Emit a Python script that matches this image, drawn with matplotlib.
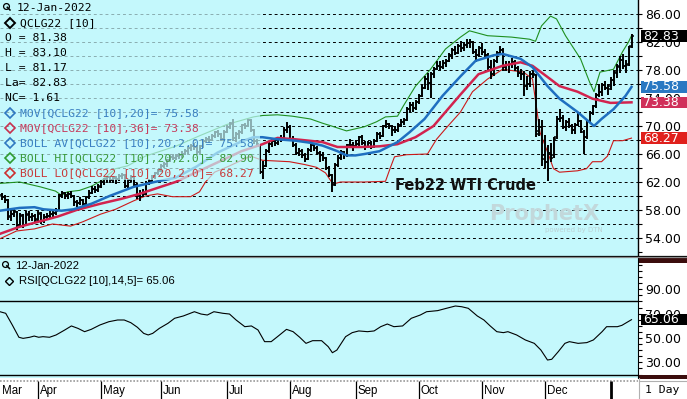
import matplotlib

matplotlib.use("Agg")
import matplotlib.pyplot as plt
import matplotlib.transforms as mtransforms
import numpy as np
from matplotlib.lines import Line2D
from matplotlib.patches import Rectangle
from matplotlib.ticker import FormatStrFormatter

BG = "#c4f8fc"
BLUE = "#1f6fc0"
CRIMSON = "#d2234e"
GREEN = "#1f8f1f"
RED = "#cc1a1a"
MONO = "DejaVu Sans Mono"
SANS = "Liberation Sans"

FIG_W, FIG_H = 687, 399
PLOT_W = 638
PRICE_H = 256
RSI_TOP, RSI_BOTTOM = 258, 378

# month labels and the bar index where each month starts
MONTHS = ["Mar", "Apr", "May", "Jun", "Jul", "Aug", "Sep", "Oct", "Nov", "Dec", ""]
MONTH_START = [0, 12, 33, 53, 75, 96, 118, 139, 160, 181, 203]

# daily OHLC bars, one row per month (Mar 2021 .. Jan 2022)
OPENS = [
    60.2, 59.8, 59.4, 57.1, 57.5, 57.7, 55.8, 57.3, 55.9, 57.4, 57.0, 57.2,
    56.7, 57.5, 56.4, 57.0, 57.2, 57.5, 57.6, 58.0, 60.1, 60.4, 60.1, 60.3, 60.0, 59.2, 59.0, 59.4, 58.8, 59.8, 60.5, 61.0, 60.9,
    61.4, 62.0, 62.4, 62.7, 62.3, 62.6, 62.4, 62.8, 63.0, 61.5, 62.3, 62.7, 61.6, 60.0, 60.5, 60.3, 61.9, 62.2, 62.8, 63.3,
    63.8, 64.3, 64.6, 65.1, 65.6, 65.5, 65.7, 65.9, 66.0, 66.4, 66.9, 67.2, 67.0, 66.3, 67.1, 67.9, 68.2, 68.0, 68.6, 69.1, 68.8, 68.2,
    69.2, 69.9, 70.4, 68.3, 68.9, 69.2, 70.1, 70.0, 70.8, 69.4, 67.8, 67.2, 63.5, 64.3, 66.4, 67.5, 67.9, 67.6, 68.1, 68.3, 69.5,
    69.9, 68.2, 67.3, 66.2, 66.5, 65.9, 65.3, 66.6, 67.3, 66.9, 66.2, 65.9, 65.4, 64.0, 63.0, 61.7, 64.4, 65.5, 66.3, 65.8, 67.3, 67.3,
    67.2, 67.5, 68.4, 67.6, 67.0, 67.6, 67.0, 67.9, 68.8, 68.6, 70.0, 70.3, 70.0, 69.4, 69.5, 70.2, 70.6, 70.9, 72.4, 73.0, 72.6,
    73.4, 74.3, 75.5, 76.7, 76.2, 77.4, 78.2, 78.6, 78.5, 79.0, 79.3, 80.1, 80.8, 80.5, 81.4, 81.2, 81.6, 81.9, 82.0, 80.6, 80.2,
    81.1, 80.6, 80.2, 78.4, 77.5, 79.3, 80.4, 80.9, 78.4, 78.7, 78.8, 79.1, 78.3, 77.6, 77.4, 75.7, 76.0, 77.4, 77.3, 69.3, 69.8,
    65.8, 64.9, 66.2, 65.9, 68.4, 71.0, 71.2, 69.9, 70.6, 70.0, 69.5, 70.2, 70.7, 69.2, 68.4, 70.7, 71.9, 72.8, 74.5, 74.9, 75.8, 75.5,
    75.7, 76.6, 77.6, 78.5, 79.5, 78.6, 78.9, 81.38,
]
HIGHS = [
    60.5, 60.2, 59.6, 58.2, 58.3, 57.9, 57.6, 57.5, 57.8, 57.9, 57.6, 57.5,
    58.0, 57.7, 57.4, 57.6, 57.9, 58.0, 58.3, 60.3, 60.7, 60.6, 60.6, 60.7, 60.2, 59.5, 59.8, 59.6, 60.0, 60.8, 61.4, 61.5, 61.7,
    62.3, 62.6, 62.9, 62.9, 62.9, 62.9, 63.1, 63.3, 63.1, 62.5, 63.0, 62.9, 61.8, 60.9, 61.0, 62.1, 62.5, 63.0, 63.5, 63.9,
    64.6, 64.9, 65.3, 65.8, 66.0, 66.0, 66.2, 66.4, 66.7, 67.2, 67.5, 67.6, 67.3, 67.3, 68.1, 68.5, 68.6, 68.9, 69.3, 69.4, 69.0, 69.4,
    70.2, 70.6, 71.0, 69.2, 69.5, 70.3, 70.5, 71.0, 71.0, 69.6, 68.2, 67.4, 65.0, 66.7, 67.7, 68.1, 68.2, 68.4, 68.7, 69.8, 70.6,
    70.1, 68.6, 67.6, 66.9, 66.7, 66.1, 66.8, 67.6, 67.5, 67.1, 66.4, 66.3, 65.6, 64.3, 63.2, 64.7, 65.8, 66.6, 66.5, 67.5, 68.1, 67.7,
    68.0, 68.6, 68.7, 67.9, 67.9, 67.9, 68.2, 69.1, 69.2, 70.2, 70.9, 70.5, 70.1, 70.0, 70.5, 71.0, 71.2, 72.7, 73.4, 73.5, 73.7,
    74.6, 75.8, 77.2, 77.6, 77.7, 78.5, 79.3, 79.3, 79.4, 79.6, 80.4, 81.1, 81.4, 81.7, 82.2, 82.0, 82.4, 82.5, 82.1, 81.0, 81.5,
    81.9, 81.0, 80.4, 79.4, 79.6, 80.7, 81.4, 81.2, 79.3, 79.3, 79.7, 79.4, 78.6, 78.2, 77.9, 77.1, 77.9, 78.0, 77.5, 71.0, 70.9,
    68.7, 67.3, 67.6, 68.5, 71.5, 72.4, 71.6, 70.9, 71.1, 70.3, 70.4, 71.9, 70.9, 69.5, 70.9, 72.1, 73.0, 74.7, 76.0, 76.1, 76.5, 76.0,
    77.0, 77.8, 78.9, 80.0, 80.3, 79.4, 81.5, 83.10,
]
LOWS = [
    59.4, 59.0, 56.6, 56.5, 57.0, 55.2, 55.6, 55.5, 55.7, 56.5, 56.4, 56.2,
    56.4, 56.0, 56.1, 56.6, 56.8, 56.9, 57.3, 57.9, 59.7, 59.6, 59.6, 59.7, 58.6, 58.5, 58.7, 58.4, 58.6, 59.6, 60.3, 60.5, 60.6,
    61.2, 61.6, 62.0, 61.9, 61.9, 61.7, 62.1, 62.4, 61.2, 61.2, 62.0, 61.4, 59.6, 59.3, 59.8, 60.2, 61.6, 62.0, 62.5, 63.0,
    63.5, 64.0, 64.2, 64.8, 65.1, 65.2, 65.3, 65.5, 65.8, 66.0, 66.5, 66.6, 65.9, 66.0, 66.8, 67.6, 67.6, 67.8, 68.3, 68.4, 67.8, 68.0,
    69.0, 69.6, 67.9, 67.7, 68.2, 68.9, 69.6, 69.8, 69.1, 67.5, 67.1, 63.2, 62.4, 64.1, 66.2, 67.0, 67.1, 67.3, 67.7, 68.1, 69.0,
    68.0, 67.0, 65.9, 65.7, 65.5, 64.9, 65.1, 66.3, 66.4, 65.9, 64.9, 65.0, 63.7, 62.7, 60.6, 61.5, 64.2, 65.2, 65.3, 65.6, 66.8, 66.5,
    66.9, 67.2, 67.3, 66.6, 66.8, 66.7, 66.8, 67.7, 68.2, 68.4, 69.7, 69.6, 68.6, 69.0, 69.2, 69.9, 70.2, 70.7, 72.0, 72.0, 72.3,
    73.1, 74.1, 75.3, 75.2, 74.0, 76.9, 78.0, 77.9, 78.1, 78.4, 79.1, 79.6, 80.1, 80.3, 80.6, 80.7, 81.2, 81.1, 80.3, 79.1, 79.8,
    80.1, 79.7, 78.0, 76.7, 77.2, 79.0, 80.1, 77.8, 77.9, 77.6, 78.3, 77.9, 77.0, 76.6, 74.3, 75.1, 75.6, 76.8, 68.4, 68.6, 64.3,
    64.0, 62.1, 64.8, 65.4, 68.2, 70.6, 69.6, 69.3, 69.7, 68.9, 68.8, 70.0, 69.0, 66.0, 68.2, 70.5, 71.6, 72.6, 74.2, 74.3, 75.1, 74.5,
    75.1, 75.7, 76.9, 77.6, 78.2, 77.6, 78.6, 81.17,
]
CLOSES = [
    59.8, 59.5, 57.0, 57.4, 57.8, 55.7, 57.2, 55.8, 57.3, 57.0, 57.2, 56.6,
    57.6, 56.4, 57.0, 57.2, 57.5, 57.6, 57.9, 60.1, 60.4, 60.1, 60.3, 60.0, 59.2, 59.0, 59.4, 58.8, 59.8, 60.5, 61.0, 60.9, 61.3,
    62.0, 62.4, 62.7, 62.3, 62.6, 62.4, 62.8, 63.0, 61.5, 62.3, 62.7, 61.6, 60.0, 60.5, 60.3, 61.9, 62.2, 62.8, 63.3, 63.6,
    64.3, 64.6, 65.1, 65.6, 65.5, 65.7, 65.9, 66.0, 66.4, 66.9, 67.2, 67.0, 66.3, 67.1, 67.9, 68.2, 68.0, 68.6, 69.1, 68.8, 68.2, 69.2,
    69.9, 70.3, 68.3, 68.9, 69.2, 70.1, 70.0, 70.8, 69.4, 67.8, 67.4, 63.5, 64.3, 66.4, 67.5, 67.9, 67.6, 68.1, 68.3, 69.5, 69.9,
    68.2, 67.3, 66.2, 66.5, 65.9, 65.3, 66.6, 67.3, 66.9, 66.2, 65.9, 65.4, 64.0, 63.0, 61.6, 64.4, 65.5, 66.3, 65.8, 67.3, 67.3, 67.2,
    67.5, 68.4, 67.6, 67.0, 67.6, 67.0, 67.9, 68.8, 68.6, 70.0, 70.3, 70.0, 69.4, 69.5, 70.2, 70.6, 70.9, 72.4, 73.0, 72.6, 73.4,
    74.3, 75.5, 76.7, 76.2, 77.4, 78.2, 78.6, 78.5, 79.0, 79.3, 80.1, 80.8, 80.5, 81.4, 81.2, 81.6, 81.9, 82.0, 80.6, 80.2, 81.1,
    80.6, 80.2, 78.4, 77.5, 79.3, 80.4, 80.9, 78.4, 78.7, 78.8, 79.1, 78.3, 77.6, 77.4, 75.7, 76.0, 77.4, 77.5, 68.8, 69.8, 65.3,
    64.9, 66.2, 65.5, 68.2, 71.0, 71.2, 69.9, 70.6, 70.0, 69.5, 70.2, 70.7, 69.6, 68.4, 70.7, 71.9, 72.8, 74.5, 74.9, 75.8, 75.5, 75.3,
    76.6, 77.7, 78.6, 79.5, 78.6, 78.7, 81.22, 82.83,
]

# indicator lines at bar positions
MA20_X = [-0.5, 6, 11, 14, 20, 24, 30, 36, 44, 51, 58, 65, 72, 80, 84, 87, 92, 98, 103, 107, 112, 115, 118, 121,
          126, 132, 136, 141, 147, 153, 158, 164, 167, 173, 177, 182, 186, 192, 197.5, 200, 204, 208, 210]
MA20_Y = [57.9, 58.3, 58.4, 58.1, 57.9, 58.1, 58.9, 60.0, 61.3, 62.0, 62.6, 64.2, 66.2, 67.8, 68.4, 68.4, 68.1, 67.9, 67.6, 67.2, 66.4, 65.8, 65.8, 66.0,
          66.4, 67.7, 69.1, 71.0, 74.3, 77.1, 79.3, 80.1, 80.3, 79.6, 78.4, 75.7, 73.9, 72.0, 70.0, 71.0, 72.4, 74.3, 75.58]

MA36_X = [-0.5, 6, 13, 19, 25, 33, 40, 46, 53, 58, 66, 73, 80, 87, 92, 98, 107, 112, 120, 126, 132, 138, 144,
          153, 159, 167, 173, 177, 182, 186, 192, 197, 203, 210]
MA36_Y = [54.6, 55.6, 56.4, 57.1, 58.0, 58.9, 59.6, 60.3, 61.3, 62.0, 63.6, 65.0, 66.4, 67.4, 68.3, 68.1, 67.7, 67.0, 67.0, 67.1, 67.4, 68.4, 70.0,
          74.5, 77.4, 78.6, 79.1, 78.6, 77.0, 75.7, 74.9, 73.9, 73.3, 73.38]

BBH_X = [-0.5, 6, 13, 18, 20, 22, 26, 30, 33, 35, 38, 42, 48, 58, 66, 75, 84, 87, 92, 97, 103, 107, 110, 115, 121, 125,
         128, 132, 134, 138, 143, 148, 153, 156, 162, 170, 176, 178, 180, 183, 185, 188, 193, 196, 197.5, 199.5, 204, 207, 209, 210]
BBH_Y = [61.8, 62.0, 61.3, 60.7, 60.1, 60.6, 60.8, 61.4, 62.1, 62.8, 63.9, 64.3, 65.7, 67.1, 68.6, 70.2, 71.3, 71.5, 71.6, 71.4, 71.0, 70.4, 70.0, 69.3, 69.9, 70.6,
         71.3, 71.4, 72.9, 75.7, 78.1, 81.0, 82.7, 83.6, 82.9, 82.7, 82.4, 82.1, 84.3, 85.7, 85.3, 82.9, 79.6, 76.3, 74.9, 77.7, 78.1, 80.6, 82.0, 82.90]

BBL_X = [-0.5, 5, 11, 17, 23, 27, 33, 38, 44, 48, 52, 57, 63, 66, 68, 71, 76, 83, 87, 96, 101, 105, 108, 110.5, 113, 121,
         128, 129.5, 131, 135, 142, 145, 148, 153, 157, 162, 167, 174, 177, 179.5, 182, 184, 186, 192, 195, 197, 200, 202, 204, 207, 210]
BBL_Y = [53.9, 55.0, 55.3, 56.0, 55.7, 56.3, 57.4, 58.1, 59.3, 60.0, 60.3, 59.9, 59.9, 60.6, 62.0, 63.4, 64.3, 65.7, 65.1, 64.9, 64.5, 64.1, 63.3, 61.7, 62.0, 62.0,
         62.1, 63.9, 65.6, 65.9, 66.0, 68.1, 69.6, 72.0, 74.9, 76.7, 78.1, 77.7, 76.7, 69.1, 66.3, 63.9, 63.4, 63.6, 63.9, 64.9, 64.9, 65.7, 67.9, 67.9, 68.27]

RSI_X = [-0.5, 1.4, 3.6, 5.8, 7.2, 9.4, 10.9, 12.4, 13.8, 16.0, 18.2, 21.1, 23.3, 25.5, 27.7, 29.9, 32.8, 35.8, 38.7, 40.9,
         43.1, 45.3, 47.4, 48.9, 50.4, 52.6, 55.5, 57.7, 60.6, 64.3, 66.5, 68.6, 70.8, 73.8, 76.0, 78.2, 81.1, 83.3, 85.5, 87.7,
         89.9, 92.0, 95.0, 97.2, 99.4, 101.5, 103.7, 106.7, 108.9, 110.3, 111.8, 114.7, 116.9, 119.1, 122.0, 124.2, 126.4, 128.6,
         130.8, 133.7, 136.6, 139.6, 141.7, 145.4, 148.3, 151.3, 153.4, 155.6, 158.6, 160.8, 162.9, 165.1, 167.3, 168.8, 171.7,
         174.6, 177.6, 179.8, 182.0, 183.4, 185.6, 187.8, 189.3, 192.2, 195.1, 197.3, 200.2, 201.7, 205.3, 206.8, 210]
RSI_Y = [71.6, 70.3, 60.7, 50.6, 49.7, 50.6, 51.6, 50.6, 51.1, 50.6, 52.5, 56.6, 59.9, 57.9, 55.2, 57.1, 60.7, 63.4, 64.8, 64.8,
         62.6, 58.8, 53.8, 52.5, 53.8, 57.9, 62.1, 66.2, 68.1, 71.6, 69.7, 68.9, 71.6, 70.3, 69.7, 64.8, 59.3, 59.9, 56.6, 47.0,
         47.0, 51.1, 57.1, 55.2, 50.6, 45.6, 47.8, 47.8, 42.9, 37.9, 40.1, 51.1, 54.4, 55.8, 55.2, 55.8, 59.3, 61.5,
         59.3, 59.9, 66.2, 68.9, 71.6, 72.5, 74.4, 76.3, 75.7, 74.4, 68.1, 64.8, 59.9, 55.2, 54.4, 55.2, 52.5,
         48.4, 45.6, 40.1, 31.9, 32.5, 38.8, 45.6, 47.0, 45.6, 46.2, 48.4, 55.2, 59.3, 59.3, 60.4, 65.06]

LEGEND_ROWS = [
    ("O = 81.38", "black", None),
    ("H = 83.10", "black", None),
    ("L = 81.17", "black", None),
    ("La= 82.83", "black", None),
    ("NC= 1.61", "black", None),
    ("MOV[QCLG22 [10],20]= 75.58", "#3a80c2", "#2f78c0"),
    ("MOV[QCLG22 [10],36]= 73.38", "#c63c5c", "#c8304f"),
    ("BOLL AV[QCLG22 [10],20,2.0]= 75.58", "#3a80c2", "#2f78c0"),
    ("BOLL HI[QCLG22 [10],20,2.0]= 82.90", "#3a9a3a", "#2e9a2e"),
    ("BOLL LO[QCLG22 [10],20,2.0]= 68.27", "#c83a3a", "#cc2e2e"),
]


def fig_box(px0, py0, px1, py1):
    return [px0 / FIG_W, 1 - py1 / FIG_H, (px1 - px0) / FIG_W, (py1 - py0) / FIG_H]


def fig_xy(px, py):
    return px / FIG_W, 1 - py / FIG_H


def fig_text(fig, px, py, s, **kw):
    fx, fy = fig_xy(px, py)
    fig.text(fx, fy, s, va="center", ha="left", **kw)


def fig_marker(fig, px, py, **kw):
    fx, fy = fig_xy(px, py)
    fig.add_artist(Line2D([fx], [fy], transform=fig.transFigure, **kw))


def magnifier(fig, px, py):
    fig_marker(fig, px, py, marker="o", ms=4.2, mfc="none", mec="black", mew=0.9)
    x0, y0 = fig_xy(px + 1.8, py + 1.8)
    x1, y1 = fig_xy(px + 4.5, py + 4.5)
    fig.add_artist(Line2D([x0, x1], [y0, y1], transform=fig.transFigure, color="black", lw=1.1))


def value_tag(ax, value, text, color, height):
    trans = mtransforms.blended_transform_factory(ax.transAxes, ax.transData)
    ax.add_patch(Rectangle((641 / PLOT_W, value - height / 2), 46 / PLOT_W, height,
                           transform=trans, fc=color, ec="none", clip_on=False, zorder=10))
    ax.text(643 / PLOT_W, value, text, transform=trans, color="white", fontsize=9,
            va="center", ha="left", clip_on=False, zorder=11)


def main():
    fig = plt.figure(figsize=(FIG_W / 100, FIG_H / 100), dpi=100, facecolor="white")
    ax = fig.add_axes(fig_box(0, 0, PLOT_W, PRICE_H), facecolor=BG)
    rsi_ax = fig.add_axes(fig_box(0, RSI_TOP, PLOT_W, RSI_BOTTOM), facecolor=BG)
    date_ax = fig.add_axes(fig_box(0, RSI_BOTTOM, PLOT_W, FIG_H), facecolor="white")

    x = np.arange(len(CLOSES))
    xlim = (-0.5, (PLOT_W - 1.5) / 3)

    # --- price panel ---
    ax.set_xlim(*xlim)
    ax.set_ylim(86 - (PRICE_H - 14) / 7, 86 + 14 / 7)
    for level in np.arange(54, 87, 2):
        ax.axhline(level, color="black", lw=0.7, ls=(0, (3, 3)), zorder=1)

    ax.text(0.853, 1 - 214 / PRICE_H, "ProphetX", transform=ax.transAxes, ha="center", va="center",
            fontsize=15, fontweight="bold", color="#c2d8db", zorder=1.2)
    ax.text(0.9, 1 - 230 / PRICE_H, "powered by DTN", transform=ax.transAxes, ha="center", va="center",
            fontsize=5, color="#bcd2d5", zorder=1.2)

    ax.plot(BBH_X, BBH_Y, color=GREEN, lw=0.8, zorder=2)
    ax.plot(BBL_X, BBL_Y, color=RED, lw=0.8, zorder=2)
    ax.vlines(x, LOWS, HIGHS, color="black", lw=1.4, zorder=3)
    ax.hlines(OPENS, x - 0.7, x, color="black", lw=1.1, zorder=3)
    ax.hlines(CLOSES, x, x + 0.7, color="black", lw=1.1, zorder=3)
    ax.plot(MA36_X, MA36_Y, color=CRIMSON, lw=1.8, zorder=4)
    ax.plot(MA20_X, MA20_Y, color=BLUE, lw=1.8, zorder=4)

    # translucent legend box fades what lies under it
    ax.add_patch(Rectangle((0, 1 - 180 / PRICE_H), 260 / PLOT_W, 180 / PRICE_H, transform=ax.transAxes,
                           fc=BG, ec="none", alpha=0.7, zorder=5))

    ax.text(395 / PLOT_W, 1 - 185.5 / PRICE_H, "Feb22 WTI Crude", transform=ax.transAxes,
            fontsize=10.5, fontweight="bold", color="#111111", va="center", ha="left", zorder=6)

    ax.yaxis.tick_right()
    ax.set_yticks(np.arange(54, 87, 4))
    ax.set_yticks(np.arange(52, 88, 2), minor=True)
    ax.yaxis.set_major_formatter(FormatStrFormatter("%.2f"))
    ax.tick_params(axis="y", which="both", direction="out", length=3, width=0.8, labelsize=9, pad=2)
    ax.set_xticks([])
    for side in ("left", "top", "bottom"):
        ax.spines[side].set_visible(False)
    ax.spines["right"].set_linewidth(1.0)

    value_tag(ax, CLOSES[-1], f"{CLOSES[-1]:.2f}", "black", 1.65)
    value_tag(ax, MA20_Y[-1], f"{MA20_Y[-1]:.2f}", "#2a78c2", 1.65)
    value_tag(ax, MA36_Y[-1], f"{MA36_Y[-1]:.2f}", "#d0305a", 1.65)
    value_tag(ax, BBL_Y[-1], f"{BBL_Y[-1]:.2f}", "#e0201c", 1.65)

    # --- legend text (price) ---
    magnifier(fig, 5.5, 5.5)
    fig_text(fig, 17, 8, "12-Jan-2022", family=MONO, fontsize=8.2)
    fig_marker(fig, 10, 23, marker="D", ms=4.6, mfc="none", mec="black", mew=1.4)
    fig_text(fig, 20, 23, "QCLG22 [10]", family=MONO, fontsize=8.2)
    py = 38
    for label, color, mcolor in LEGEND_ROWS:
        if mcolor is None:
            fig_text(fig, 5, py, label, family=MONO, fontsize=8.2, color=color)
        else:
            fig_marker(fig, 9.5, py, marker="D", ms=4.6, mfc="none", mec=mcolor, mew=1.2)
            fig_text(fig, 20, py, label, family=MONO, fontsize=8.2, color=color)
        py += 15

    # --- RSI panel ---
    rsi_ax.set_xlim(*xlim)
    rsi_ax.set_ylim(50 - (RSI_BOTTOM - 338) / 1.2167, 50 + (338 - RSI_TOP) / 1.2167)
    rsi_ax.axhline(80, color="black", lw=1.0)
    rsi_ax.axhline(20, color="black", lw=1.0)
    rsi_ax.plot(RSI_X, RSI_Y, color="black", lw=0.8)
    rsi_ax.yaxis.tick_right()
    rsi_ax.set_yticks([30, 50, 70, 90])
    rsi_ax.set_yticks(np.arange(20, 116, 5), minor=True)
    rsi_ax.yaxis.set_major_formatter(FormatStrFormatter("%.2f"))
    rsi_ax.tick_params(axis="y", which="both", direction="out", length=3, width=0.8, labelsize=9, pad=2)
    rsi_ax.set_xticks([])
    for side in ("left", "top", "bottom"):
        rsi_ax.spines[side].set_visible(False)
    value_tag(rsi_ax, RSI_Y[-1], f"{RSI_Y[-1]:.2f}", "black", 9.5)

    magnifier(fig, 5, 264)
    fig_text(fig, 15, 266, "12-Jan-2022", family=SANS, fontsize=8.2)
    fig_marker(fig, 9, 281, marker="D", ms=4.2, mfc="none", mec="black", mew=1.0)
    fig_text(fig, 19, 281.5, "RSI[QCLG22 [10],14,5]= 65.06", family=SANS, fontsize=8.2)

    # --- date strip ---
    date_ax.set_xlim(*xlim)
    date_ax.set_ylim(0, 1)
    date_ax.axis("off")
    date_ax.axhline(0.86, color="#9a9a9a", lw=1.2, ls=(0, (1, 1)))
    date_ax.vlines(MONTH_START[1:-1], 0, 0.86, color="black", lw=0.9)
    date_ax.vlines(MONTH_START[-1:], 0, 0.86, color="black", lw=2.0)
    for name, start in zip(MONTHS, MONTH_START):
        if name:
            date_ax.text(start + 0.8 if start else 0.2, 0.38, name, family=SANS, fontsize=8.3, va="center")

    # panel borders and right column decorations
    fig.add_artist(Line2D([0, 1], [1 - 255.5 / FIG_H] * 2, transform=fig.transFigure, color="black", lw=0.9))
    fig.add_artist(Line2D([0, 1], [1 - 257.2 / FIG_H] * 2, transform=fig.transFigure, color="#8a8a8a", lw=0.9))
    for y0, y1 in ((258, 262.5), (374.5, 378.5)):
        fx, fy = fig_xy(639, y1)
        fig.add_artist(Rectangle((fx, fy), 48 / FIG_W, (y1 - y0) / FIG_H, transform=fig.transFigure,
                                 fc="#3b0d0d", ec="none"))
    fx0, fy0 = fig_xy(638.5, 381)
    fig.add_artist(Line2D([fx0, 1], [fy0, fy0], transform=fig.transFigure, color="#b0b0b0", lw=0.8))
    fig.add_artist(Line2D([fx0, fx0], [0, fig_xy(0, 378)[1]], transform=fig.transFigure, color="#b0b0b0", lw=0.8))
    fig_text(fig, 645, 390, "1 Day", family=MONO, fontsize=8.2)

    fig.savefig("out.png", dpi=100, facecolor="white")


if __name__ == "__main__":
    main()
